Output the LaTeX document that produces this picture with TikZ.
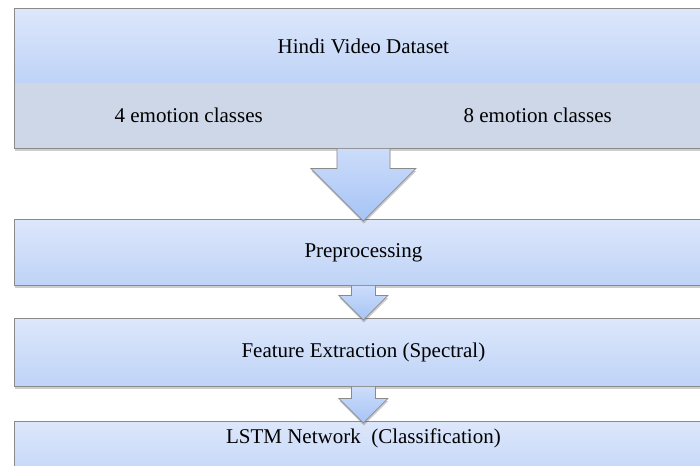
\documentclass[tikz,border=0pt]{standalone}
\usepackage{fontspec}
\setmainfont{Liberation Serif}
\usetikzlibrary{calc,shadows}

\definecolor{boxtop}{HTML}{DDE7FB}
\definecolor{boxbot}{HTML}{BED3F7}
\definecolor{bandfill}{HTML}{CED7E8}
\definecolor{edgegray}{HTML}{8A8A8A}
\definecolor{arrtop}{HTML}{CCDCFA}
\definecolor{arrbot}{HTML}{A6C4F6}

% block arrow between two stages: from, to, shaft half width, head half width
\newcommand\flowarrow[4]{%
  \path[arrowbody] let \p1=(#1.south), \p2=(#2.north) in
    (\x1-#3pt,\y1) -- (\x1-#3pt,\y2+#4pt-2pt) -- (\x1-#4pt,\y2+#4pt-2pt)
    -- (\x1,\y2-2pt) -- (\x1+#4pt,\y2+#4pt-2pt) -- (\x1+#3pt,\y2+#4pt-2pt)
    -- (\x1+#3pt,\y1);
}

\begin{document}
\begin{tikzpicture}[x=1pt,y=-1pt,
  softshadow/.style={drop shadow={shadow xshift=0.5pt,shadow yshift=-2.5pt,
      fill=black!70,opacity=0.28}},
  stagefont/.style={font=\fontsize{21}{25}\selectfont},
  stagebox/.style={rectangle,draw=edgegray,line width=0.8pt,
      top color=boxtop,bottom color=boxbot,minimum width=698pt,
      minimum height=66pt,inner sep=0pt,anchor=north west,stagefont,softshadow},
  bandcell/.style={rectangle,fill=bandfill,minimum width=349pt,
      minimum height=65pt,inner sep=0pt,anchor=north west,stagefont},
  arrowbody/.style={draw=edgegray,line width=0.7pt,line join=miter,
      top color=arrtop,bottom color=arrbot,softshadow},
]
\useasboundingbox (0,0) rectangle (700,465);
\clip (0,0) rectangle (700,465);
\fill[white] (0,0) rectangle (700,465);

% dataset block with its two class cells
\node[stagebox,minimum height=140pt,top color=white,bottom color=white]
  (datasetframe) at (14,8) {};
\node[stagebox,minimum height=75pt,draw=none,drop shadow={opacity=0}]
  (dataset) at (14,8) {Hindi Video Dataset};
\node[bandcell] (four) at (14,83) {4 emotion classes};
\node[bandcell] (eight) at (363,83) {8 emotion classes};
\draw[edgegray,line width=0.8pt] (datasetframe.north west) rectangle (datasetframe.south east);

% processing stages
\node[stagebox] (prep) at (14,219) {Preprocessing};
\node[stagebox,minimum height=68pt] (feat) at (14,318) {Feature Extraction (Spectral)};
\node[stagebox] (lstm) at (14,421) {};
\node[stagefont,anchor=base] (lstmlabel) at ([yshift=-22pt]lstm.north)
  {LSTM Network~~(Classification)};

% connecting block arrows
\flowarrow{datasetframe}{prep}{26.5}{52.5}
\flowarrow{prep}{feat}{12}{24.5}
\flowarrow{feat}{lstm}{12}{24.5}
\end{tikzpicture}
\end{document}
